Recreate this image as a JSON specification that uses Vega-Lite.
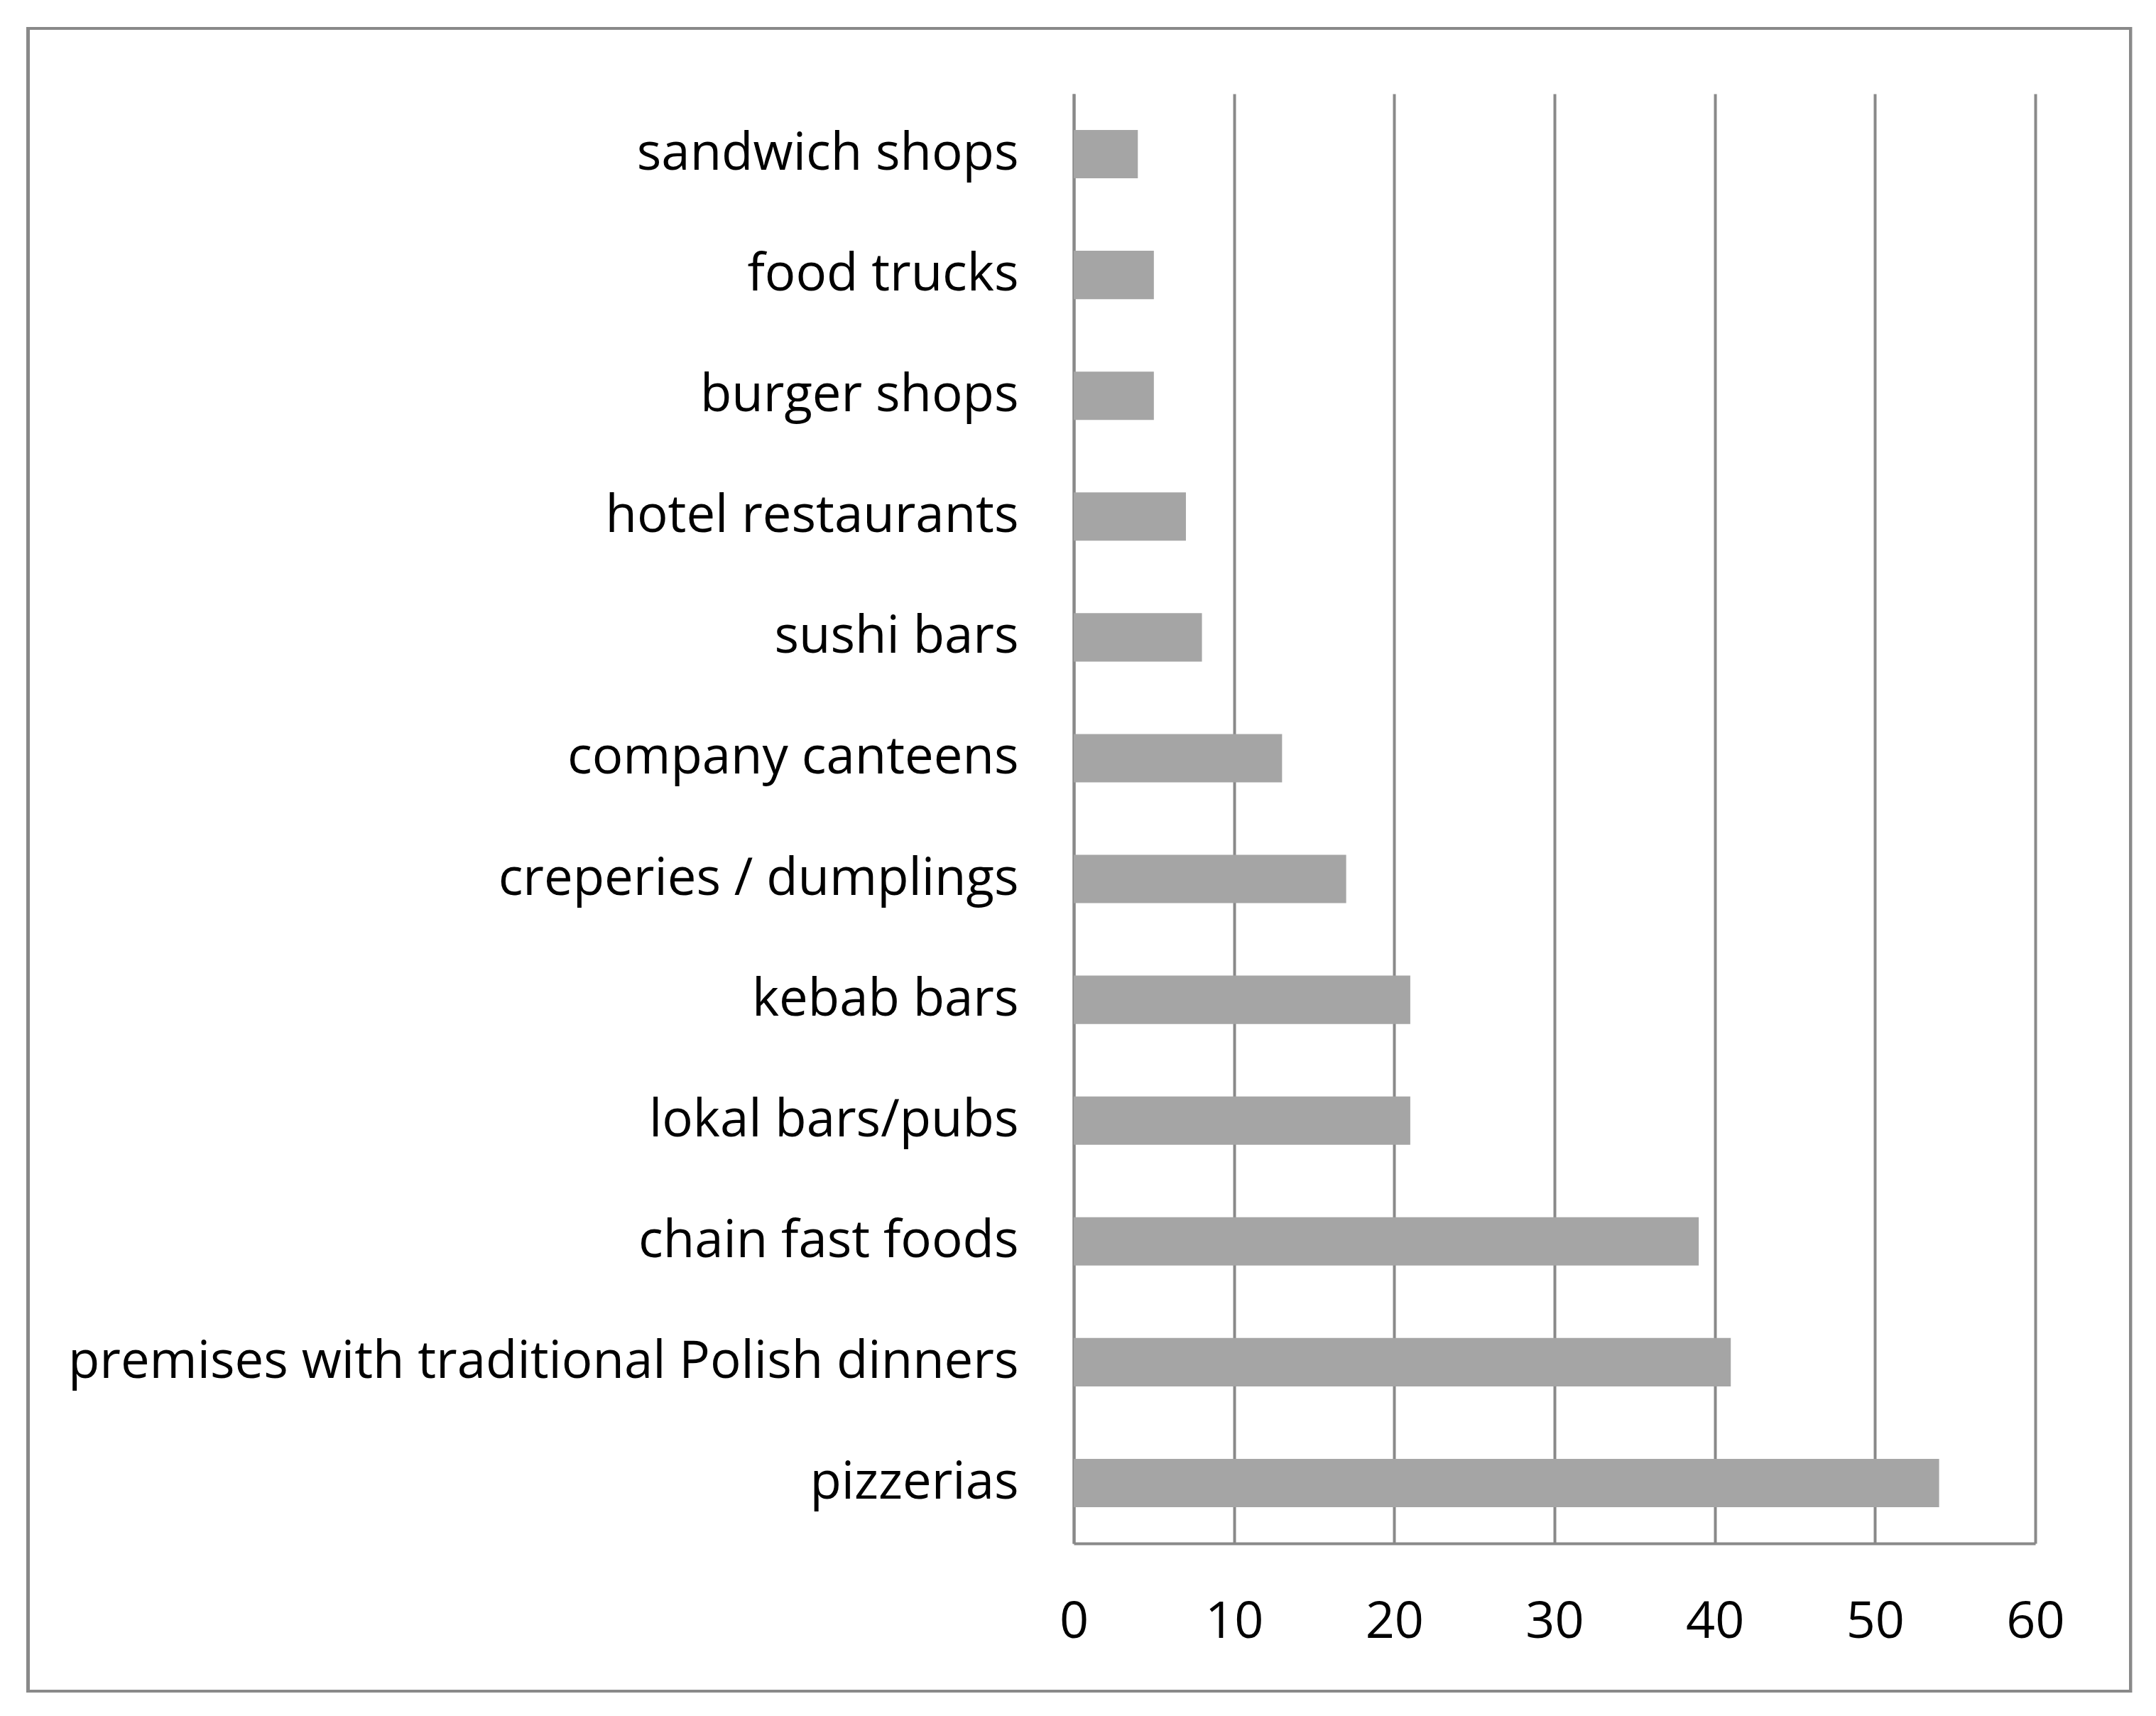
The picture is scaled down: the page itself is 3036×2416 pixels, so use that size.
{
  "$schema": "https://vega.github.io/schema/vega-lite/v6.json",
  "autosize": "none",
  "width": 1354,
  "height": 2041,
  "padding": {"left": 1512, "top": 132, "right": 170, "bottom": 243},
  "background": "#ffffff",
  "config": {
    "view": {"stroke": null},
    "font": "Open Sans"
  },
  "data": {
    "values": [
      {"type": "sandwich shops", "count": 4},
      {"type": "food trucks", "count": 5},
      {"type": "burger shops", "count": 5},
      {"type": "hotel restaurants", "count": 7},
      {"type": "sushi bars", "count": 8},
      {"type": "company canteens", "count": 13},
      {"type": "creperies / dumplings", "count": 17},
      {"type": "kebab bars", "count": 21},
      {"type": "lokal bars/pubs", "count": 21},
      {"type": "chain fast foods", "count": 39},
      {"type": "premises with traditional Polish dinners", "count": 41},
      {"type": "pizzerias", "count": 54}
    ]
  },
  "layer": [
    {
      "mark": {"type": "bar", "color": "#A5A5A5"},
      "encoding": {
        "y": {
          "field": "type",
          "type": "nominal",
          "sort": null,
          "scale": {"paddingInner": 0.6, "paddingOuter": 0.3},
          "axis": {
            "title": null,
            "ticks": false,
            "grid": false,
            "domain": true,
            "domainColor": "#898989",
            "domainWidth": 4,
            "labelFont": "Open Sans",
            "labelFontSize": 72.5,
            "labelColor": "#000000",
            "labelPadding": 78,
            "labelLimit": 0
          }
        },
        "x": {
          "field": "count",
          "type": "quantitative",
          "scale": {"domain": [0, 60], "nice": false},
          "axis": {
            "title": null,
            "values": [0, 10, 20, 30, 40, 50, 60],
            "ticks": false,
            "grid": true,
            "gridColor": "#898989",
            "gridWidth": 4,
            "gridOpacity": 1,
            "domain": true,
            "domainColor": "#898989",
            "domainWidth": 4,
            "labelFont": "Open Sans",
            "labelFontSize": 72,
            "labelColor": "#000000",
            "labelPadding": 75,
            "labelFlush": false
          }
        }
      }
    },
    {
      "mark": {"type": "rect", "fill": null, "stroke": "#898989", "strokeWidth": 4, "clip": false},
      "encoding": {
        "x": {"datum": -65.25, "type": "quantitative"},
        "x2": {"datum": 65.94},
        "y": {"datum": 1.0451, "type": "quantitative", "scale": {"domain": [0, 1], "nice": false, "zero": false}, "axis": null},
        "y2": {"datum": -0.1019}
      }
    }
  ],
  "resolve": {"scale": {"y": "independent"}, "axis": {"y": "independent"}}
}
